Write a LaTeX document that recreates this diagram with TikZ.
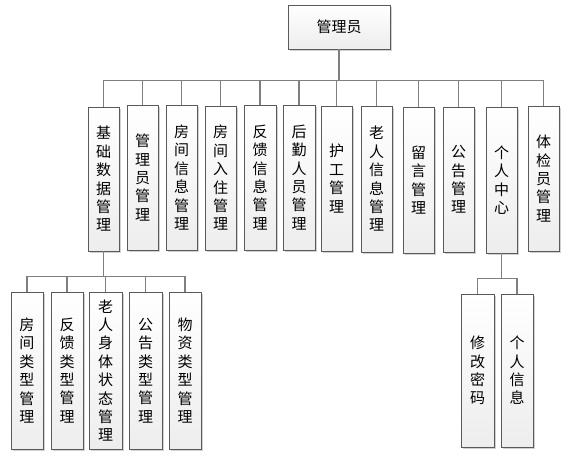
\documentclass[tikz,border=0pt]{standalone}
\usepackage{fontspec}
\newfontfamily\cjk{Noto Sans CJK SC}
\usetikzlibrary{shadows,calc}
\definecolor{boxline}{HTML}{5A5A5A}
\definecolor{connline}{HTML}{7F7F7F}
\tikzset{
  mbox/.style={draw=boxline, line width=0.9pt, top color=white, bottom color=black!7,
    drop shadow={shadow xshift=1.6pt, shadow yshift=-1.6pt, fill=black, opacity=0.18},
    inner sep=0pt, align=center, font=\cjk\fontsize{15}{18.4}\selectfont},
  conn/.style={draw=connline, line width=1.2pt}
}
\newcommand{\mkbox}[6]{% name, left, right, top, bottom, text
  \node[mbox, minimum width={(#3-#2)*1pt}, minimum height={(#5-#4)*1pt}] (#1) at ({(#2+#3)/2},{(#4+#5)/2}) {#6};}
\begin{document}
\begin{tikzpicture}[x=1pt,y=-1pt]
\useasboundingbox[fill=white] (0,0) rectangle (569,467);
% root
\node[mbox, minimum width=102pt, minimum height=44pt] (root) at (339,27) {管理员};
% level 1
\mkbox{b1}{88}{119}{107}{251}{基\\础\\数\\据\\管\\理}
\mkbox{b2}{127}{158}{105}{250}{管\\理\\员\\管\\理}
\mkbox{b3}{166}{197}{105}{250}{房\\间\\信\\息\\管\\理}
\mkbox{b4}{205}{236}{106}{250}{房\\间\\入\\住\\管\\理}
\mkbox{b5}{244}{276}{105}{250}{反\\馈\\信\\息\\管\\理}
\mkbox{b6}{283}{315}{105}{250}{后\\勤\\人\\员\\管\\理}
\mkbox{b7}{321}{352}{106}{251}{护\\工\\管\\理}
\mkbox{b8}{361}{392}{106}{252}{老\\人\\信\\息\\管\\理}
\mkbox{b9}{403}{434}{107}{253}{留\\言\\管\\理}
\mkbox{b10}{443}{474}{107}{252}{公\\告\\管\\理}
\mkbox{b11}{486}{517}{107}{253}{个\\人\\中\\心}
\mkbox{b12}{528}{559}{106}{251}{体\\检\\员\\管\\理}
% level 2 under b1
\mkbox{c1}{11}{43}{292}{449}{房\\间\\类\\型\\管\\理}
\mkbox{c2}{51}{83}{292}{449}{反\\馈\\类\\型\\管\\理}
\mkbox{c3}{89}{122}{292}{449}{老\\人\\身\\体\\状\\态\\管\\理}
\mkbox{c4}{129}{162}{292}{449}{公\\告\\类\\型\\管\\理}
\mkbox{c5}{169}{201}{292}{449}{物\\资\\类\\型\\管\\理}
% level 2 under b11
\mkbox{d1}{461}{494}{294}{447}{修\\改\\密\\码}
\mkbox{d2}{501}{533}{294}{447}{个\\人\\信\\息}
% connectors
\path (root.south) ++(0,31) coordinate (j0);
\foreach \c in {b1,b2,b3,b4,b5,b6,b7,b8,b9,b10,b11,b12}
  \draw[conn] (root.south) -- (j0) -| (\c.north);
\path (b1.south) ++(0,25) coordinate (j1);
\foreach \c in {c1,c2,c3,c4,c5}
  \draw[conn] (b1.south) -- (j1) -| (\c.north);
\path (b11.south) ++(0,25) coordinate (j2);
\foreach \c in {d1,d2}
  \draw[conn] (b11.south) -- (j2) -| (\c.north);
\end{tikzpicture}
\end{document}
